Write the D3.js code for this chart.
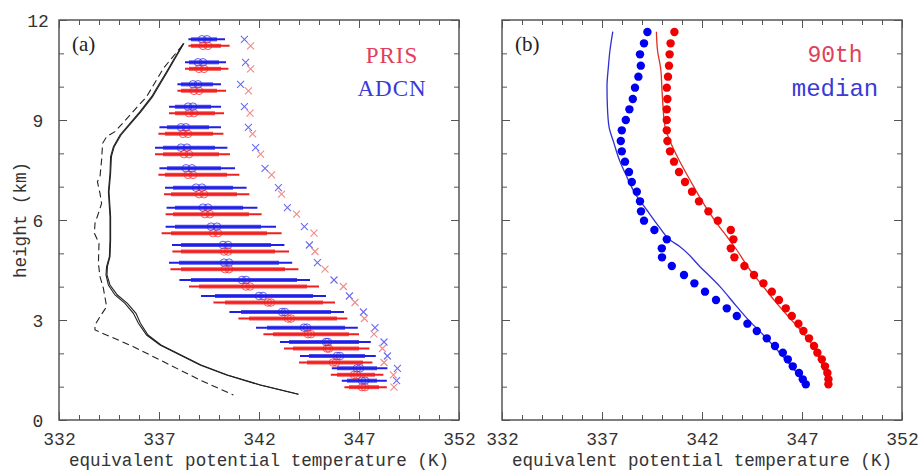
<!DOCTYPE html>
<html>
<head>
<meta charset="utf-8">
<script src="https://cdn.jsdelivr.net/npm/d3@7"></script>
<style>
  html, body { margin: 0; padding: 0; background: #fff; }
  svg { display: block; }
</style>
</head>
<body>
<svg id="chart" width="921" height="471"></svg>
<script>
// ---------------- DATA ----------------
const xTicksMajor = [332, 337, 342, 347, 352];
const yTicksMajor = [0, 3, 6, 9, 12];

// Panel (a): height levels of the bars (km)
const barHeights = [11.42, 10.73, 10.07, 9.40, 8.78, 8.17, 7.55, 6.97, 6.37, 5.80,
                    5.25, 4.72, 4.20, 3.72, 3.24, 2.77, 2.34, 1.92, 1.55, 1.18];

// ADCN (blue)
const adcnLo   = [338.47, 338.30, 337.92, 337.50, 337.02, 336.80, 337.02, 337.30, 337.38, 337.33,
                  337.65, 337.50, 338.02, 339.10, 340.52, 341.85, 343.05, 344.05, 345.64, 346.14];
const adcnQ1   = [338.60, 338.50, 338.10, 337.80, 337.40, 337.20, 337.40, 337.70, 337.80, 337.80,
                  338.10, 338.00, 338.60, 339.80, 341.10, 342.40, 343.50, 344.50, 345.90, 346.40];
const adcnMed  = [339.15, 338.95, 338.70, 338.45, 338.10, 338.10, 338.35, 338.85, 339.20, 339.60,
                  340.20, 340.25, 341.15, 342.00, 343.15, 344.25, 345.35, 345.90, 346.90, 347.15];
const adcnMean = [339.40, 339.20, 338.95, 338.70, 338.35, 338.40, 338.65, 339.15, 339.45, 339.90,
                  340.45, 340.50, 341.35, 342.20, 343.30, 344.40, 345.45, 346.05, 347.05, 347.30];
const adcnQ3   = [339.90, 340.00, 339.70, 339.60, 339.50, 339.80, 340.10, 340.70, 341.20, 342.10,
                  342.60, 343.00, 343.90, 344.70, 345.60, 346.30, 347.00, 347.30, 347.90, 347.90];
const adcnHi   = [340.30, 340.35, 340.10, 340.10, 340.10, 340.42, 340.80, 341.38, 341.92, 342.85,
                  343.27, 343.66, 344.55, 345.35, 346.25, 346.94, 347.59, 347.84, 348.42, 348.39];
const adcnX    = [341.27, 341.33, 341.08, 341.27, 341.47, 341.83, 342.30, 342.97, 343.42, 344.27,
                  344.52, 344.92, 345.75, 346.52, 347.22, 347.80, 348.25, 348.42, 348.92, 348.88];

// PRIS (red)
const prisLo   = [338.47, 338.30, 337.92, 337.50, 336.97, 336.80, 336.97, 337.25, 337.33, 337.13,
                  337.67, 337.57, 338.50, 339.72, 340.97, 342.22, 343.25, 344.00, 345.59, 346.27];
const prisQ1   = [338.60, 338.50, 338.10, 337.80, 337.30, 337.20, 337.30, 337.60, 337.70, 337.60,
                  338.10, 338.10, 339.00, 340.30, 341.50, 342.70, 343.70, 344.40, 345.90, 346.50];
const prisMed  = [339.20, 339.00, 338.75, 338.50, 338.20, 338.25, 338.45, 339.00, 339.30, 339.70,
                  340.25, 340.30, 341.35, 342.45, 343.45, 344.45, 345.40, 345.70, 346.75, 347.15];
const prisMean = [339.45, 339.25, 339.00, 338.75, 338.45, 338.50, 338.70, 339.25, 339.55, 339.95,
                  340.45, 340.50, 341.55, 342.60, 343.60, 344.60, 345.50, 345.85, 346.90, 347.30];
const prisQ3   = [340.10, 340.10, 339.90, 339.80, 339.70, 340.00, 340.40, 340.90, 341.50, 342.40,
                  342.80, 343.30, 344.40, 345.20, 345.90, 346.50, 347.00, 347.20, 347.80, 348.00];
const prisHi   = [340.53, 340.47, 340.35, 340.25, 340.22, 340.55, 341.02, 341.52, 342.13, 343.13,
                  343.50, 343.97, 345.00, 345.80, 346.42, 347.00, 347.52, 347.67, 348.22, 348.39];
const prisX    = [341.58, 341.58, 341.47, 341.55, 341.68, 342.08, 342.63, 343.13, 343.88, 344.75,
                  344.80, 345.30, 346.22, 346.80, 347.27, 347.75, 348.17, 348.25, 348.72, 348.75];

// Panel (a): environmental profiles [height km, theta-e K]
const envSolid1 = [[11.30,338.22],[10.80,337.72],[10.45,337.38],[9.95,336.88],[9.70,336.63],[9.25,336.05],
                   [8.55,335.05],[8.20,334.72],[7.90,334.58],[7.40,334.55],[6.85,334.47],[6.10,334.55],
                   [5.40,334.55],[4.90,334.52],[4.60,334.38],[4.35,334.35],[4.05,334.47],[3.75,334.80],
                   [3.50,335.30],[3.20,335.72],[2.90,335.97],[2.55,336.38],[2.25,337.05],[1.95,338.05],
                   [1.65,339.05],[1.35,340.38],[1.05,342.05],[0.77,343.97]];
const envSolid2 = [[11.30,338.25],[10.80,337.76],[10.45,337.42],[9.95,336.93],[9.70,336.68],[9.25,336.10],
                   [8.55,335.10],[8.20,334.76],[7.90,334.62],[7.40,334.58],[6.85,334.50],[6.10,334.58],
                   [5.40,334.58],[4.90,334.55],[4.60,334.42],[4.35,334.40],[4.05,334.55],[3.75,334.92],
                   [3.50,335.42],[3.20,335.85],[2.90,336.07],[2.55,336.45],[2.25,337.10],[1.95,338.10],
                   [1.65,339.10],[1.35,340.42],[1.05,342.08],[0.77,343.97]];
const envDashed = [[11.25,338.18],[10.55,337.22],[9.70,336.38],[9.15,335.55],[8.65,334.80],[8.50,334.38],
                   [8.30,334.18],[7.80,334.13],[7.30,334.05],[7.15,333.92],[6.80,334.05],[6.50,334.13],
                   [6.20,333.97],[5.90,333.80],[5.60,333.77],[5.30,334.00],[4.70,333.97],[4.30,334.05],
                   [3.95,334.22],[3.40,334.38],[3.10,334.05],[2.85,333.80],[2.70,333.80],[2.20,335.72],
                   [1.70,337.38],[1.20,339.05],[0.75,340.72]];

// Panel (b): dot levels (km) and values (K)
const dotHeights = [11.64, 11.30, 10.97, 10.63, 10.30, 9.97, 9.63, 9.32, 9.00, 8.69,
                    8.37, 8.06, 7.75, 7.44, 7.14, 6.85, 6.56, 6.26, 5.98, 5.70,
                    5.42, 5.15, 4.88, 4.62, 4.35, 4.10, 3.85, 3.60, 3.35, 3.12,
                    2.89, 2.67, 2.45, 2.22, 2.02, 1.82, 1.61, 1.41, 1.22, 1.07];
const medianDots = [339.27, 339.10, 338.90, 338.94, 338.82, 338.65, 338.54, 338.37, 338.19, 337.99,
                    337.94, 337.99, 338.15, 338.35, 338.49, 338.74, 338.90, 338.95, 339.10, 339.62,
                    340.24, 339.99, 340.00, 340.49, 341.10, 341.62, 342.15, 342.70, 343.24, 343.74,
                    344.27, 344.74, 345.24, 345.65, 346.04, 346.29, 346.54, 346.85, 347.04, 347.19];
const p90Dots    = [340.62, 340.43, 340.38, 340.35, 340.30, 340.24, 340.27, 340.24, 340.24, 340.24,
                    340.27, 340.40, 340.60, 340.85, 341.15, 341.50, 341.85, 342.32, 342.79, 343.44,
                    343.57, 343.44, 343.62, 344.12, 344.60, 345.07, 345.49, 345.85, 346.19, 346.49,
                    346.82, 347.07, 347.35, 347.60, 347.77, 347.99, 348.15, 348.27, 348.32, 348.32];
// Panel (b): lines [height km, K]
const medianLine = [[11.65,337.54],[11.10,337.40],[10.60,337.32],[10.00,337.25],[9.40,337.27],[8.80,337.35],
                    [8.30,337.60],[7.80,337.87],[7.30,338.24],[6.80,338.65],[6.30,339.24],[5.80,339.85],
                    [5.40,340.40],[5.20,340.90],[4.60,341.90],[4.00,342.90],[3.40,343.74],[2.95,344.40],
                    [2.55,345.07],[1.80,346.20],[1.08,347.20]];
const p90Line    = [[11.65,339.72],[11.07,339.78],[10.56,339.93],[9.90,340.00],[9.50,340.04],[8.80,340.15],
                    [8.37,340.40],[7.80,340.85],[7.20,341.40],[6.50,342.07],[5.90,342.74],[5.46,343.30],
                    [5.10,343.74],[4.50,344.40],[4.00,345.07],[3.50,345.74],[3.05,346.40],[2.60,347.07],
                    [2.20,347.57],[1.80,347.90],[1.40,348.15],[1.10,348.32]];

// ---------------- DRAWING ----------------
const svg = d3.select("#chart");
const BLUE = "#1f1fe6", RED = "#f01e1e";
const y = d3.scaleLinear().domain([0, 12]).range([420, 20]);
const xA = d3.scaleLinear().domain([332, 352]).range([59, 459]);
const xB = d3.scaleLinear().domain([332, 352]).range([502, 902]);
const minorX = d3.range(332, 353, 1);
const minorY = d3.range(0, 13, 1);
const monoFont = "'Liberation Mono', 'DejaVu Sans Mono', monospace";

function frame(x, showYLabels) {
  const g = svg.append("g");
  const [x0, x1] = x.range();
  const mk = (axis, tr) => {
    const a = g.append("g").attr("transform", tr).call(axis);
    a.select(".domain").remove();
    a.selectAll(".tick line").attr("stroke", "#555").attr("stroke-width", 1);
    return a;
  };
  // bottom
  mk(d3.axisBottom(x).tickValues(minorX).tickSize(-5).tickFormat(""), `translate(0,420)`);
  const bx = mk(d3.axisBottom(x).tickValues(xTicksMajor).tickSize(-8).tickPadding(14).tickFormat(d3.format("d")), `translate(0,420)`);
  bx.selectAll("text").attr("font-family", monoFont).attr("font-size", 18).attr("fill", "#333")
    .attr("dy", "0.62em");
  // top
  mk(d3.axisTop(x).tickValues(minorX).tickSize(-5).tickFormat(""), `translate(0,20)`);
  mk(d3.axisTop(x).tickValues(xTicksMajor).tickSize(-8).tickFormat(""), `translate(0,20)`);
  // left
  mk(d3.axisLeft(y).tickValues(minorY).tickSize(-5).tickFormat(""), `translate(${x0},0)`);
  const ly = mk(d3.axisLeft(y).tickValues(yTicksMajor).tickSize(-8).tickFormat(showYLabels ? d3.format("d") : ""), `translate(${x0},0)`);
  if (showYLabels) {
    ly.selectAll("text").attr("font-family", monoFont).attr("font-size", 18).attr("fill", "#333")
      .attr("text-anchor", "middle").attr("x", 38 - x0).attr("dy", "0.35em");
  }
  // right
  mk(d3.axisRight(y).tickValues(minorY).tickSize(-5).tickFormat(""), `translate(${x1},0)`);
  mk(d3.axisRight(y).tickValues(yTicksMajor).tickSize(-8).tickFormat(""), `translate(${x1},0)`);
  g.append("rect").attr("x", x0).attr("y", 20).attr("width", x1 - x0).attr("height", 400)
    .attr("fill", "none").attr("stroke", "#555").attr("stroke-width", 1.5);
  // x label
  svg.append("text").attr("x", (x0 + x1) / 2).attr("y", 466).attr("text-anchor", "middle")
    .attr("font-family", monoFont).attr("font-size", 17.6).attr("fill", "#333")
    .text("equivalent potential temperature (K)");
}

frame(xA, true);
frame(xB, false);

svg.append("text").attr("transform", "translate(26,220) rotate(-90)").attr("text-anchor", "middle")
  .attr("font-family", monoFont).attr("font-size", 17.6).attr("fill", "#333").text("height (km)");

// ---- Panel (a) ----
const gA = svg.append("g");
const lineA = d3.line().x(d => xA(d[1])).y(d => y(d[0]));
gA.append("path").attr("d", lineA(envSolid1)).attr("fill", "none").attr("stroke", "#222").attr("stroke-width", 1.1);
gA.append("path").attr("d", lineA(envSolid2)).attr("fill", "none").attr("stroke", "#222").attr("stroke-width", 1.1);
gA.append("path").attr("d", lineA(envDashed)).attr("fill", "none").attr("stroke", "#222").attr("stroke-width", 1.1)
  .attr("stroke-dasharray", "7,4");

function bars(lo, q1, med, mean, q3, hi, xs, color, light, dy) {
  const g = gA.append("g");
  barHeights.forEach((h, i) => {
    const yy = y(h) + dy;
    g.append("line").attr("x1", xA(lo[i])).attr("x2", xA(hi[i])).attr("y1", yy).attr("y2", yy)
      .attr("stroke", color).attr("stroke-width", 2);
    g.append("line").attr("x1", xA(q1[i])).attr("x2", xA(q3[i])).attr("y1", yy).attr("y2", yy)
      .attr("stroke", color).attr("stroke-width", 4).attr("stroke-opacity", 0.8);
    [med[i], mean[i]].forEach(v => {
      g.append("circle").attr("cx", xA(v)).attr("cy", yy).attr("r", 3.8)
        .attr("fill", "none").attr("stroke", color).attr("stroke-width", 1).attr("stroke-opacity", 0.7);
    });
    const cx = xA(xs[i]), s = 3.5;
    g.append("path").attr("d", `M${cx - s},${yy - s}L${cx + s},${yy + s}M${cx - s},${yy + s}L${cx + s},${yy - s}`)
      .attr("stroke", light).attr("stroke-width", 1.1).attr("fill", "none");
  });
}
bars(adcnLo, adcnQ1, adcnMed, adcnMean, adcnQ3, adcnHi, adcnX, BLUE, "#6a6af0", 0);
bars(prisLo, prisQ1, prisMed, prisMean, prisQ3, prisHi, prisX, RED, "#f08a8a", 6.5);

gA.append("text").attr("x", 72).attr("y", 51).attr("font-family", "'Liberation Serif', serif")
  .attr("font-size", 21).attr("fill", "#222").text("(a)");
gA.append("text").attr("x", 392).attr("y", 63).attr("text-anchor", "middle").attr("font-family", "'Liberation Serif', serif")
  .attr("font-size", 23).attr("letter-spacing", 1).attr("fill", "#e0405a").text("PRIS");
gA.append("text").attr("x", 392).attr("y", 96).attr("text-anchor", "middle").attr("font-family", "'Liberation Serif', serif")
  .attr("font-size", 23).attr("letter-spacing", 1).attr("fill", "#3a3ad6").text("ADCN");

// ---- Panel (b) ----
const gB = svg.append("g");
const lineB = d3.line().x(d => xB(d[1])).y(d => y(d[0])).curve(d3.curveMonotoneY);
gB.append("path").attr("d", lineB(medianLine)).attr("fill", "none").attr("stroke", "#3030d0").attr("stroke-width", 1.3);
gB.append("path").attr("d", lineB(p90Line)).attr("fill", "none").attr("stroke", "#e03020").attr("stroke-width", 1.3);
gB.selectAll("circle.med").data(dotHeights).join("circle").attr("class", "med")
  .attr("cx", (d, i) => xB(medianDots[i])).attr("cy", d => y(d)).attr("r", 4.2).attr("fill", "#0000f0");
gB.selectAll("circle.p90").data(dotHeights).join("circle").attr("class", "p90")
  .attr("cx", (d, i) => xB(p90Dots[i])).attr("cy", d => y(d)).attr("r", 4.2).attr("fill", "#f00000");

gB.append("text").attr("x", 515).attr("y", 51).attr("font-family", "'Liberation Serif', serif")
  .attr("font-size", 21).attr("fill", "#222").text("(b)");
gB.append("text").attr("x", 835).attr("y", 62).attr("text-anchor", "middle").attr("font-family", monoFont)
  .attr("font-size", 23).attr("fill", "#e0405a").text("90th");
gB.append("text").attr("x", 835).attr("y", 96).attr("text-anchor", "middle").attr("font-family", monoFont)
  .attr("font-size", 24).attr("fill", "#3a3ad6").text("median");
</script>
</body>
</html>
